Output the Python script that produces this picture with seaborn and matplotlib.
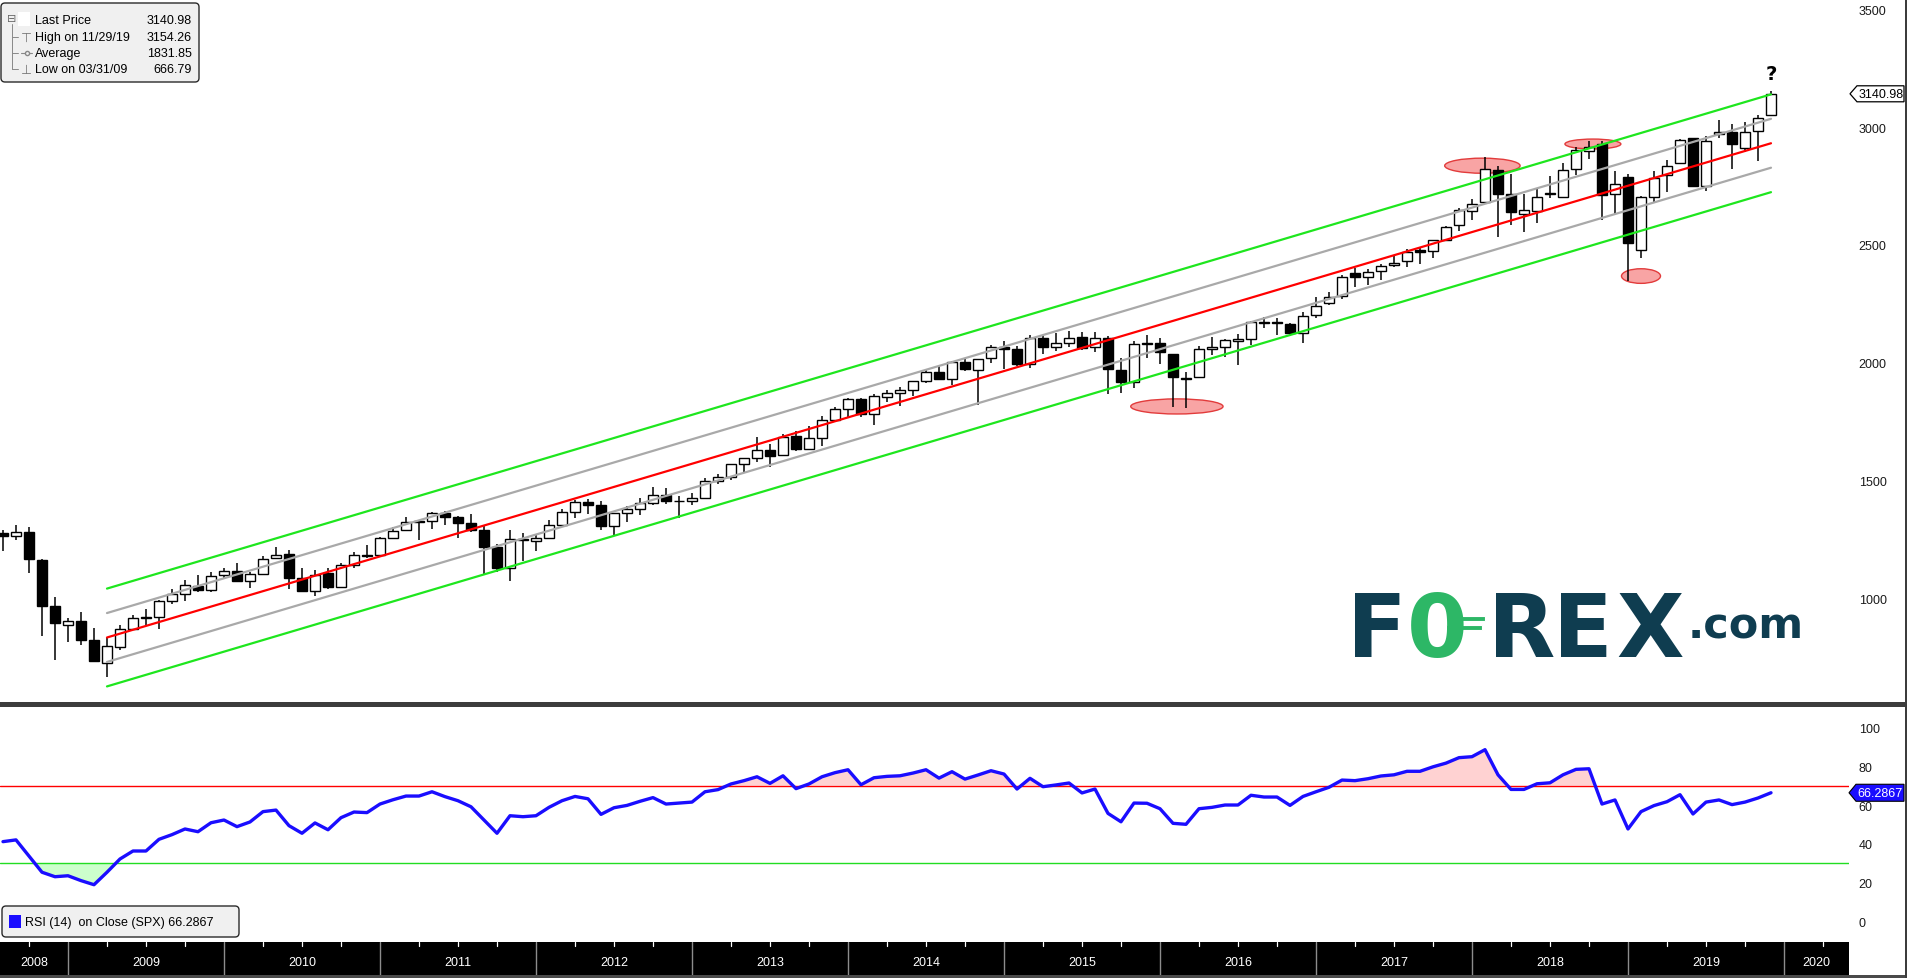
import numpy as np
import pandas as pd
import matplotlib
matplotlib.use("Agg")
import matplotlib.pyplot as plt
import seaborn as sns
from matplotlib.patches import Ellipse, Rectangle, FancyBboxPatch, Polygon
from matplotlib.lines import Line2D
from matplotlib.transforms import IdentityTransform

# ---------------- data (monthly S&P 500, Jul 2008 .. Nov 2019) ----------------
first_month = "2008-07"
opens = [1280, 1267, 1282, 1164, 968, 888,
         903, 823, 729, 793, 872, 924, 920, 990, 1019, 1054, 1036, 1099,
         1116, 1074, 1106, 1171, 1188, 1088, 1032, 1107, 1050, 1143, 1185, 1186,
         1258, 1289, 1328, 1329, 1365, 1346, 1320, 1292, 1219, 1131, 1252, 1246,
         1258, 1312, 1366, 1409, 1398, 1310, 1362, 1379, 1406, 1441, 1412, 1416,
         1426, 1498, 1515, 1569, 1597, 1631, 1609, 1690, 1636, 1682, 1759, 1806,
         1846, 1783, 1857, 1873, 1885, 1924, 1962, 1930, 2004, 1971, 2019, 2066,
         2059, 1997, 2105, 2067, 2086, 2109, 2067, 2105, 1970, 1919, 2080, 2082,
         2038, 1937, 1938, 2057, 2068, 2093, 2100, 2173, 2171, 2164, 2128, 2201,
         2252, 2285, 2381, 2363, 2389, 2416, 2431, 2477, 2474, 2521, 2583, 2646,
         2683, 2816, 2715, 2633, 2643, 2718, 2704, 2821, 2897, 2926, 2717, 2790,
         2477, 2703, 2798, 2848, 2952, 2751, 2971, 2980, 2910, 2983, 3050]
highs = [1292, 1313, 1303, 1167, 1007, 918,
         943, 877, 832, 888, 930, 956, 996, 1039, 1080, 1101, 1113, 1130,
         1150, 1112, 1180, 1220, 1205, 1131, 1120, 1129, 1149, 1196, 1227, 1263,
         1302, 1344, 1332, 1366, 1371, 1349, 1357, 1308, 1230, 1292, 1277, 1269,
         1334, 1378, 1420, 1422, 1416, 1363, 1392, 1426, 1475, 1470, 1434, 1448,
         1510, 1530, 1570, 1598, 1687, 1654, 1699, 1710, 1730, 1775, 1814, 1850,
         1850, 1867, 1884, 1898, 1924, 1968, 1991, 2006, 2019, 2018, 2075, 2093,
         2072, 2119, 2118, 2126, 2135, 2130, 2132, 2113, 2020, 2094, 2116, 2104,
         2038, 1963, 2073, 2111, 2103, 2121, 2178, 2194, 2188, 2169, 2214, 2278,
         2301, 2371, 2401, 2398, 2418, 2454, 2484, 2491, 2520, 2582, 2658, 2695,
         2873, 2836, 2801, 2718, 2742, 2791, 2848, 2916, 2941, 2940, 2815, 2800,
         2708, 2813, 2861, 2949, 2955, 2964, 3028, 3013, 3022, 3050, 3154]
lows = [1200, 1248, 1107, 840, 741, 815,
        805, 735, 667, 783, 866, 888, 869, 978, 991, 1029, 1029, 1086,
        1071, 1044, 1102, 1170, 1040, 1028, 1011, 1040, 1048, 1131, 1173, 1186,
        1257, 1289, 1249, 1295, 1311, 1258, 1282, 1101, 1114, 1075, 1159, 1202,
        1258, 1312, 1341, 1358, 1291, 1267, 1325, 1355, 1397, 1403, 1343, 1398,
        1426, 1485, 1501, 1536, 1581, 1560, 1605, 1627, 1633, 1647, 1747, 1768,
        1770, 1738, 1835, 1815, 1860, 1916, 1930, 1905, 1964, 1821, 2001, 1972,
        1988, 1980, 2039, 2049, 2068, 2056, 2044, 1867, 1872, 1893, 2019, 1993,
        1812, 1810, 1937, 2034, 2025, 1992, 2075, 2148, 2119, 2114, 2084, 2188,
        2245, 2272, 2322, 2329, 2353, 2405, 2407, 2417, 2446, 2520, 2557, 2605,
        2683, 2533, 2586, 2553, 2594, 2698, 2699, 2796, 2864, 2604, 2631, 2347,
        2444, 2682, 2723, 2848, 2750, 2728, 2953, 2822, 2892, 2856, 3050]
closes = [1267, 1283, 1166, 969, 896, 903,
          826, 735, 798, 873, 919, 919, 988, 1021, 1057, 1036, 1096, 1115,
          1074, 1104, 1169, 1187, 1089, 1031, 1102, 1049, 1141, 1183, 1181, 1258,
          1286, 1327, 1326, 1364, 1345, 1321, 1292, 1219, 1131, 1253, 1247, 1258,
          1312, 1366, 1409, 1398, 1310, 1362, 1379, 1407, 1441, 1412, 1416, 1426,
          1498, 1515, 1569, 1598, 1631, 1606, 1686, 1633, 1682, 1757, 1806, 1848,
          1783, 1860, 1872, 1884, 1924, 1960, 1931, 2003, 1972, 2018, 2068, 2059,
          1995, 2105, 2068, 2086, 2107, 2063, 2104, 1972, 1920, 2079, 2080, 2044,
          1940, 1932, 2060, 2065, 2097, 2099, 2174, 2171, 2168, 2126, 2199, 2239,
          2279, 2364, 2363, 2384, 2412, 2423, 2470, 2472, 2519, 2575, 2648, 2674,
          2824, 2714, 2641, 2648, 2705, 2718, 2816, 2902, 2914, 2712, 2760, 2507,
          2704, 2785, 2834, 2946, 2752, 2942, 2980, 2927, 2977, 3038, 3141]
rsi = [41.2, 42.1, 33.8, 25.5, 23.2, 23.7, 21.2, 19.1, 25.5, 32.3,
       36.4, 36.4, 42.4, 44.8, 47.7, 46.3, 50.9, 52.3, 48.9, 51.3,
       56.6, 57.4, 49.4, 45.5, 50.8, 47.3, 53.5, 56.4, 56.1, 60.5,
       62.7, 64.6, 64.6, 66.8, 64.3, 62.2, 59.1, 52.3, 45.5, 54.5,
       54.0, 54.5, 58.8, 62.2, 64.4, 63.2, 55.2, 58.6, 59.8, 61.9,
       63.8, 60.5, 61.0, 61.5, 66.8, 67.9, 70.8, 72.5, 74.5, 71.1,
       75.0, 68.4, 70.8, 74.5, 76.6, 78.1, 70.4, 74.0, 74.7, 75.0,
       76.4, 78.1, 73.8, 77.1, 73.3, 75.4, 77.6, 75.9, 68.2, 73.7,
       69.4, 70.3, 71.3, 66.2, 68.2, 55.7, 51.4, 61.0, 60.9, 58.1,
       50.6, 50.1, 58.1, 58.8, 60.0, 60.0, 65.0, 64.1, 64.1, 59.8,
       64.4, 66.8, 69.1, 72.8, 72.5, 73.5, 74.9, 75.5, 77.3, 77.3,
       79.6, 81.5, 84.3, 84.8, 88.4, 75.5, 68.0, 68.0, 70.9, 71.4,
       75.5, 78.3, 78.6, 60.5, 62.6, 47.7, 56.6, 59.7, 61.7, 65.3,
       55.4, 61.5, 62.6, 60.2, 61.5, 63.6, 66.29]
year_labels = ['2008', '2009', '2010', '2011', '2012', '2013', '2014',
               '2015', '2016', '2017', '2018', '2019', '2020']
price_ticks = [1000, 1500, 2000, 2500, 3000, 3500]
rsi_ticks = [0, 20, 40, 60, 80, 100]
rsi_levels = [70, 30]
legend_rows = [("Last Price", "3140.98"), ("High on 11/29/19", "3154.26"),
               ("Average", "1831.85"), ("Low on 03/31/09", "666.79")]
last_price = 3140.98
rsi_last = 66.2867
channel_start_month = 8          # Mar 2009
# highlighted zones: (month position, price, width in months, height in price)
highlights = [(113.8, 2836, 5.8, 64), (122.3, 2928, 4.3, 42),
              (126.0, 2368, 3.0, 62), (90.3, 1815, 7.1, 64)]

# ---------------- figure layout ----------------
W, H, DPI = 1907, 979, 100
sns.set_theme(style="white")
plt.rcParams['font.family'] = ['Liberation Sans', 'DejaVu Sans']
fig = plt.figure(figsize=(W / DPI, H / DPI), dpi=DPI, facecolor="white")


def rect(x0, y0, x1, y1):
    return [x0 / W, 1 - y1 / H, (x1 - x0) / W, (y1 - y0) / H]


def ftext(x, y, s, **kw):
    return fig.text(x / W, 1 - y / H, s, **kw)


PLOT_R = 1849
ax = fig.add_axes(rect(0, 0, PLOT_R, 703))
ax_rsi = fig.add_axes(rect(0, 708, PLOT_R, 943))
ax_band = fig.add_axes(rect(0, 943, PLOT_R, 976))

n = len(closes)
idx = np.arange(n)
XLIM = (-0.23, 142.0)
YLIM = (561.5, 3543)
RLIM = (-10.3, 110.3)

o = np.array(opens, float)
h = np.array(highs, float)
l = np.array(lows, float)
c = np.array(closes, float)

# ---------------- main candlestick panel ----------------
for (cx, cy, ww, hh) in highlights:
    ax.add_patch(Ellipse((cx, cy), ww, hh, facecolor="#f8a4a4",
                         edgecolor="#e23b3b", lw=1.0, zorder=1))

up = c >= o
ax.vlines(idx, l, h, color="black", lw=1.1, zorder=2)
ax.bar(idx, np.maximum(np.abs(c - o), 4), bottom=np.minimum(o, c), width=0.8,
       color=np.where(up, "white", "black"), edgecolor="black", linewidth=1.0,
       zorder=3)

fit = idx >= channel_start_month
slope, intercept = np.polyfit(idx[fit], c[fit], 1)
mid = intercept + slope * idx[fit]
sd = np.std(c[fit] - mid)
channel = pd.DataFrame({"x": idx[fit], "mid": mid})
for k, col in [(2, "#1ee61e"), (1, "#a9a9a9"), (-1, "#a9a9a9"),
               (-2, "#1ee61e"), (0, "#ff0000")]:
    sns.lineplot(x=channel["x"], y=channel["mid"] + k * sd, ax=ax, color=col,
                 lw=1.6, legend=False, zorder=4)

ax.text(n - 1, 3225, "?", ha="center", va="center", fontsize=14,
        fontweight="bold", color="black", family="DejaVu Sans")

ax.set_xlim(XLIM)
ax.set_ylim(YLIM)
ax.yaxis.tick_right()
ax.set_yticks(price_ticks)
ax.set_yticklabels([str(t) for t in price_ticks])
ax.set_xticks([])
ax.tick_params(axis="y", length=0, pad=7, labelsize=9, labelcolor="#1a1a1a")
ax.set_xlabel("")
ax.set_ylabel("")
for s in ax.spines.values():
    s.set_visible(False)

# ---------------- RSI panel ----------------
r = np.array(rsi)
ax_rsi.fill_between(idx, r, rsi_levels[0], where=r >= rsi_levels[0],
                    interpolate=True, color="#ffd2d2", lw=0, zorder=1)
ax_rsi.fill_between(idx, r, rsi_levels[1], where=r <= rsi_levels[1],
                    interpolate=True, color="#ccffcc", lw=0, zorder=1)
ax_rsi.axhline(rsi_levels[0], color="#ff0000", lw=1.0, zorder=2)
ax_rsi.axhline(rsi_levels[1], color="#22dd22", lw=1.0, zorder=2)
sns.lineplot(x=idx, y=r, ax=ax_rsi, color="#1a0dff", lw=2.4, legend=False,
             zorder=3)
ax_rsi.set_xlim(XLIM)
ax_rsi.set_ylim(RLIM)
ax_rsi.yaxis.tick_right()
ax_rsi.set_yticks(rsi_ticks)
ax_rsi.set_yticklabels([str(t) for t in rsi_ticks])
ax_rsi.set_xticks([])
ax_rsi.tick_params(axis="y", length=0, pad=7, labelsize=9, labelcolor="#1a1a1a")
ax_rsi.set_xlabel("")
ax_rsi.set_ylabel("")
for s in ax_rsi.spines.values():
    s.set_visible(False)

# ---------------- time axis band ----------------
ax_band.set_facecolor("black")
ax_band.set_xlim(XLIM)
ax_band.set_ylim(0, 1)
ax_band.set_xticks([])
ax_band.set_yticks([])
for s in ax_band.spines.values():
    s.set_visible(False)
first_year = int(year_labels[0])


def year_start(Y):
    # bars sit at month end: the year boundary falls on the December bar
    return 5 + 12 * (Y - 2009)


for k, lab in enumerate(year_labels):
    Y = first_year + k
    if k > 0:
        ax_band.axvline(year_start(Y), color="#8c8c8c", lw=1.0)
    for q in (3, 6, 9):
        xq = year_start(Y) + q
        if XLIM[0] < xq < XLIM[1]:
            ax_band.plot([xq, xq], [0.88, 1.0], color="white", lw=0.9)
    left = max(year_start(Y), XLIM[0])
    right = min(year_start(Y + 1), XLIM[1])
    ax_band.text((left + right) / 2, 0.40, lab, color="white", ha="center",
                 va="center", fontsize=9)

# ---------------- frame pieces ----------------
fig.add_artist(Rectangle((0, 1 - 708 / H), 1, 5 / H, transform=fig.transFigure,
                         facecolor="#3c3c3c", edgecolor="none"))
fig.add_artist(Rectangle((0, 0), 1, 3 / H, transform=fig.transFigure,
                         facecolor="#4a4a4a", edgecolor="none"))
fig.add_artist(Rectangle((1 - 2 / W, 0), 2 / W, 1, transform=fig.transFigure,
                         facecolor="#3c3c3c", edgecolor="none"))


def poly_px(pts, **kw):
    fig.add_artist(Polygon([(x, H - y) for x, y in pts], closed=True,
                           transform=IdentityTransform(), **kw))


# last price tag
yp = (YLIM[1] - last_price) / (YLIM[1] - YLIM[0]) * 703
poly_px([(1850, yp), (1857, yp - 8), (1904, yp - 8), (1904, yp + 8),
         (1857, yp + 8)], facecolor="white", edgecolor="black", lw=0.9)
ftext(1881, yp, f"{last_price:.2f}", ha="center", va="center", fontsize=9,
      color="black")

# RSI tag
yr = 708 + (RLIM[1] - rsi_last) / (RLIM[1] - RLIM[0]) * 235
poly_px([(1849, yr), (1856, yr - 8.5), (1904, yr - 8.5), (1904, yr + 8.5),
         (1856, yr + 8.5)], facecolor="#1a0dff", edgecolor="black", lw=0.8)
ftext(1880, yr, f"{rsi_last:.4f}", ha="center", va="center", fontsize=9,
      color="white")

# ---------------- legends ----------------
fig.add_artist(FancyBboxPatch((1, H - 83), 198, 79,
                              boxstyle="round,pad=0,rounding_size=4",
                              transform=IdentityTransform(),
                              facecolor="#f0f0f0", edgecolor="#2a2a2a", lw=1.0))
row_y = [21, 38, 54, 70]
for (lab, val), yy in zip(legend_rows, row_y):
    ftext(35, yy, lab, ha="left", va="center", fontsize=9, color="black")
    ftext(192, yy, val, ha="right", va="center", fontsize=9, color="black")
ftext(12, 19, "\u229f", ha="center", va="center", fontsize=8, color="#666666",
      family="DejaVu Sans")
fig.add_artist(Line2D([12 / W, 12 / W], [1 - 25 / H, 1 - 70 / H],
                      transform=fig.transFigure, color="#888888", lw=0.7))
for yy in row_y[1:]:
    fig.add_artist(Line2D([12 / W, 18 / W], [1 - yy / H, 1 - yy / H],
                          transform=fig.transFigure, color="#888888", lw=0.7))
fig.add_artist(Rectangle((18 / W, 1 - 27 / H), 12 / W, 14 / H,
                         transform=fig.transFigure, facecolor="white",
                         edgecolor="none"))
ftext(26, 38, "\u22a4", ha="center", va="center", fontsize=9, color="#777777",
      family="DejaVu Sans")
fig.add_artist(Line2D([21 / W, 32 / W], [1 - 54 / H, 1 - 54 / H],
                      transform=fig.transFigure, color="#888888", lw=0.8))
fig.add_artist(Line2D([26.5 / W], [1 - 54 / H], transform=fig.transFigure,
                      marker="o", markersize=3, color="#888888",
                      markerfacecolor="#f0f0f0"))
ftext(26, 70, "\u22a5", ha="center", va="center", fontsize=9, color="#777777",
      family="DejaVu Sans")

fig.add_artist(FancyBboxPatch((2, H - 938), 237, 31,
                              boxstyle="round,pad=0,rounding_size=4",
                              transform=IdentityTransform(),
                              facecolor="#f0f0f0", edgecolor="#2a2a2a", lw=1.0))
fig.add_artist(Rectangle((9 / W, 1 - 929 / H), 12 / W, 13 / H,
                         transform=fig.transFigure, facecolor="#1a0dff",
                         edgecolor="none"))
ftext(25, 923, f"RSI (14)  on Close (SPX) {rsi_last:.4f}", ha="left",
      va="center", fontsize=9, color="black")

# ---------------- FOREX.com watermark ----------------
teal = "#0f3d50"
green = "#2db766"
logo_font = dict(family="DejaVu Sans", fontweight="bold",
                 fontsize=63, va="baseline", ha="left")
ftext(1347, 657, "F", color=teal, **logo_font)
ftext(1407, 657, "0", color=green, **logo_font)
fig.add_artist(Rectangle((1449 / W, 1 - 622 / H), 36 / W, 5 / H,
                         transform=fig.transFigure, facecolor=green,
                         edgecolor="white", lw=0.8))
fig.add_artist(Rectangle((1446 / W, 1 - 631 / H), 36 / W, 5 / H,
                         transform=fig.transFigure, facecolor=green,
                         edgecolor="white", lw=0.8))
ftext(1488, 657, "R", color=teal, **logo_font)
ftext(1553, 657, "E", color=teal, **logo_font)
ftext(1616, 657, "X", color=teal, **logo_font)
ftext(1688, 639, ".com", color=teal, family="DejaVu Sans",
      fontweight="bold", fontsize=31, va="baseline", ha="left")

fig.savefig("out.png", dpi=DPI, facecolor="white")
